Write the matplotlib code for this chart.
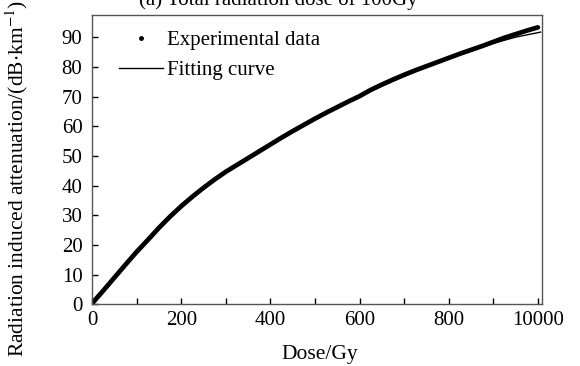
import matplotlib
matplotlib.use("Agg")
import matplotlib.pyplot as plt
from matplotlib.lines import Line2D

plt.rcParams['font.family'] = ['Liberation Serif', 'DejaVu Serif']
plt.rcParams['mathtext.fontset'] = 'stix'

dose_exp = [0, 25, 50, 75, 100, 125, 150, 175, 200, 225, 250, 275, 300, 325,
            350, 375, 400, 425, 450, 475, 500, 525, 550, 575, 600, 625, 650,
            675, 700, 725, 750, 775, 800, 825, 850, 875, 900, 925, 950, 975,
            1000]
att_exp = [0.3, 4.6, 9.0, 13.4, 17.7, 21.7, 25.8, 29.6, 33.1, 36.3, 39.3,
           42.1, 44.7, 47.0, 49.3, 51.6, 53.9, 56.2, 58.4, 60.5, 62.6, 64.6,
           66.5, 68.4, 70.2, 72.3, 74.1, 75.8, 77.4, 78.9, 80.3, 81.7, 83.1,
           84.5, 85.8, 87.1, 88.5, 89.9, 91.1, 92.3, 93.4]

# fitting curve
dose_fit = [0, 50, 100, 150, 200, 250, 300, 350, 400, 450, 500, 550, 600,
            650, 700, 750, 800, 850, 900, 950, 1006]
att_fit = [0, 9.0, 17.6, 25.4, 32.6, 39.0, 44.6, 49.2, 53.8, 58.3, 62.5,
           66.4, 70.1, 73.6, 76.9, 80.0, 82.9, 85.5, 88.0, 90.1, 91.8]

xticks = [0, 200, 400, 600, 800, 1000]
xtick_labels = ['0', '200', '400', '600', '800', '10000']

fig = plt.figure(figsize=(5.8, 3.66), dpi=100)
ax = fig.add_axes([0.159, 0.169, 0.776, 0.791])

ax.plot(dose_exp, att_exp, color='black', lw=3.4, solid_capstyle='round')
ax.plot(dose_fit, att_fit, color='black', lw=1.0)

ax.set_xlim(0, 1010)
ax.set_ylim(0, 97.7)
ax.set_xticks(range(0, 1001, 100))
ax.set_xticklabels([xtick_labels[xticks.index(t)] if t in xticks else ''
                    for t in range(0, 1001, 100)])
ax.set_yticks(range(0, 91, 10))
ax.tick_params(direction='in', length=4, width=1, labelsize=15, color='black')
ax.tick_params(axis='y', pad=7)
ax.tick_params(axis='x', pad=5)
for s in ax.spines.values():
    s.set_color('#555555')
    s.set_linewidth(1)

fig.text(320 / 580, 1 - 355 / 366, 'Dose/Gy', ha='center', va='center',
         fontsize=15.5)
fig.text(17 / 580, 1 - 178 / 366,
         'Radiation induced attenuation/(dB$\\cdot$km$^{-1}$)',
         ha='center', va='center', rotation=90, fontsize=15.5)

handles = [Line2D([], [], color='black', marker='o', markersize=2.5, ls='none'),
           Line2D([], [], color='black', lw=1.0)]
ax.legend(handles, ['Experimental data', 'Fitting curve'], loc='upper left',
          bbox_to_anchor=(0.06, 0.945), frameon=False, fontsize=15,
          handlelength=2.1, handletextpad=0.2, labelspacing=0.5,
          borderpad=0, borderaxespad=0)

fig.text(0.48, 1 - 5 / 366, '(a) Total radiation dose of 100Gy',
         ha='center', va='baseline', fontsize=15)

fig.savefig('out.png', dpi=100)
